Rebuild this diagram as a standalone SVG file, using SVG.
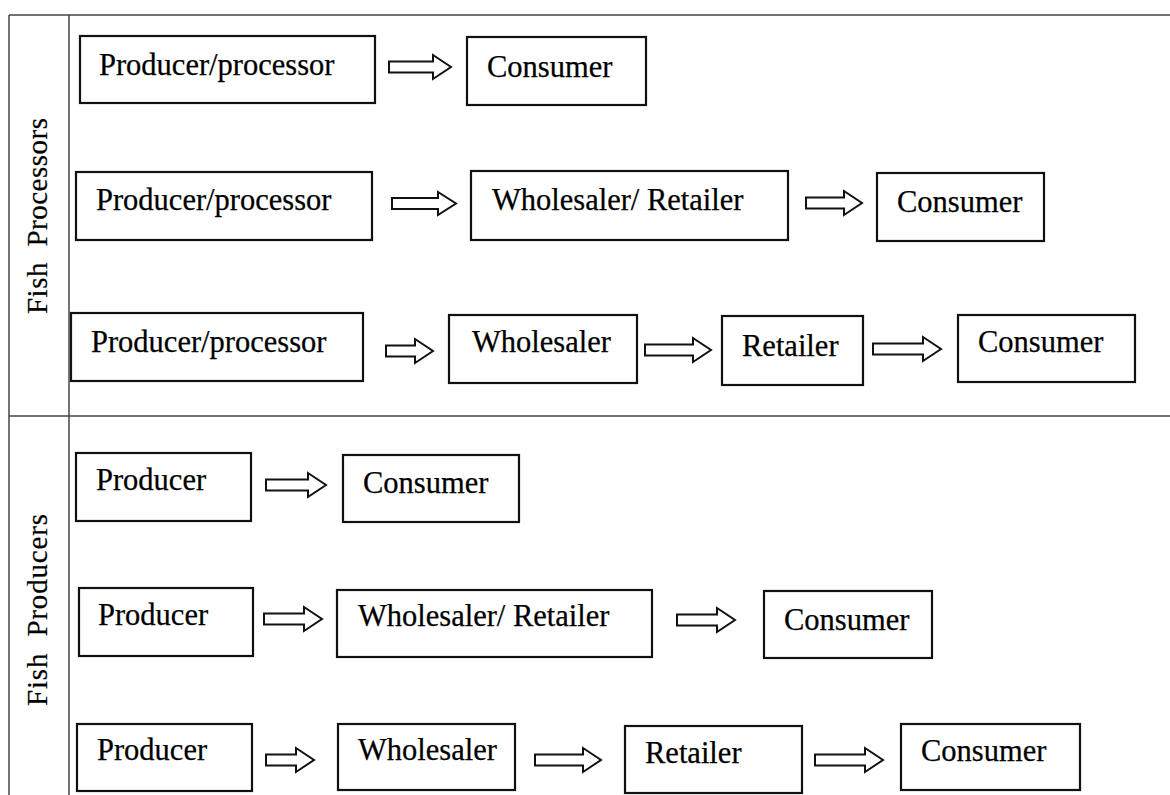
<svg xmlns="http://www.w3.org/2000/svg" width="1170" height="795" viewBox="0 0 1170 795">
<style>
.frame{stroke:#444;stroke-width:1.5;fill:none}
.box{fill:#fff;stroke:#111;stroke-width:2.2}
.t{font-family:"Liberation Serif","Times New Roman",serif;font-size:30.5px;fill:#000;stroke:#000;stroke-width:0.25}
.lab{font-family:"Liberation Serif","Times New Roman",serif;font-size:29px;fill:#000;white-space:pre;stroke:#000;stroke-width:0.2}
.arr{fill:#fff;stroke:#111;stroke-width:2;stroke-linejoin:miter}
</style>
<rect width="1170" height="795" fill="#fff"/>
<g id="frame">
<line class="frame" x1="9" y1="15" x2="1170" y2="15"/>
<line class="frame" x1="9" y1="15" x2="9" y2="795"/>
<line class="frame" x1="69" y1="15" x2="69" y2="795"/>
<line class="frame" x1="9" y1="416" x2="1170" y2="416"/>
</g>
<g id="label-processors"><text class="lab" transform="translate(47,314) rotate(-90)" textLength="196" lengthAdjust="spacing">Fish  Processors</text></g>
<g id="label-producers"><text class="lab" transform="translate(47,706) rotate(-90)" textLength="192" lengthAdjust="spacing">Fish  Producers</text></g>

<g id="r1n1"><rect class="box" x="80" y="36" width="295" height="67"/><text class="t" x="99" y="75">Producer/processor</text></g>
<g id="r1n2"><rect class="box" x="467" y="37" width="179" height="68"/><text class="t" x="487" y="77">Consumer</text></g>

<g id="r2n1"><rect class="box" x="76" y="172" width="296" height="68"/><text class="t" x="96" y="210">Producer/processor</text></g>
<g id="r2n2"><rect class="box" x="471" y="171" width="317" height="69"/><text class="t" x="492" y="210">Wholesaler/ Retailer</text></g>
<g id="r2n3"><rect class="box" x="877" y="173" width="167" height="68"/><text class="t" x="897" y="212">Consumer</text></g>

<g id="r3n1"><rect class="box" x="71" y="313" width="292" height="68"/><text class="t" x="91" y="352">Producer/processor</text></g>
<g id="r3n2"><rect class="box" x="449" y="315" width="188" height="68"/><text class="t" x="472" y="352">Wholesaler</text></g>
<g id="r3n3"><rect class="box" x="722" y="316" width="141" height="69"/><text class="t" x="742" y="356">Retailer</text></g>
<g id="r3n4"><rect class="box" x="958" y="315" width="177" height="67"/><text class="t" x="978" y="352">Consumer</text></g>

<g id="r4n1"><rect class="box" x="76" y="453" width="175" height="68"/><text class="t" x="96" y="490">Producer</text></g>
<g id="r4n2"><rect class="box" x="343" y="455" width="176" height="67"/><text class="t" x="363" y="493">Consumer</text></g>

<g id="r5n1"><rect class="box" x="79" y="588" width="174" height="68"/><text class="t" x="98" y="625">Producer</text></g>
<g id="r5n2"><rect class="box" x="337" y="590" width="315" height="67"/><text class="t" x="358" y="626">Wholesaler/ Retailer</text></g>
<g id="r5n3"><rect class="box" x="764" y="591" width="168" height="67"/><text class="t" x="784" y="630">Consumer</text></g>

<g id="r6n1"><rect class="box" x="77" y="724" width="175" height="67"/><text class="t" x="97" y="760">Producer</text></g>
<g id="r6n2"><rect class="box" x="338" y="724" width="177" height="66"/><text class="t" x="358" y="760">Wholesaler</text></g>
<g id="r6n3"><rect class="box" x="625" y="726" width="177" height="67"/><text class="t" x="645" y="763">Retailer</text></g>
<g id="r6n4"><rect class="box" x="901" y="724" width="179" height="66"/><text class="t" x="921" y="761">Consumer</text></g>

<g id="connectors">
<path class="arr" d="M389,61.5 H433 V55 L451,67 L433,79 V72.5 H389 Z"/>
<path class="arr" d="M392,198 H438 V192 L456,203.5 L438,215 V209 H392 Z"/>
<path class="arr" d="M806,197.5 H844 V191 L862,203 L844,215 V208.5 H806 Z"/>
<path class="arr" d="M386,345.5 H415 V339 L433,351 L415,363 V356.5 H386 Z"/>
<path class="arr" d="M645,344.5 H693 V338 L711,350 L693,362 V355.5 H645 Z"/>
<path class="arr" d="M873,343.5 H923 V337 L941,349 L923,361 V354.5 H873 Z"/>
<path class="arr" d="M266,479.5 H308 V473 L326,485 L308,497 V490.5 H266 Z"/>
<path class="arr" d="M264,613.5 H304 V607 L322,619 L304,631 V624.5 H264 Z"/>
<path class="arr" d="M677,614.5 H717 V608 L735,620 L717,632 V625.5 H677 Z"/>
<path class="arr" d="M266,754.5 H296 V748 L314,760 L296,772 V765.5 H266 Z"/>
<path class="arr" d="M535,754.5 H583 V748 L601,760 L583,772 V765.5 H535 Z"/>
<path class="arr" d="M815,754.5 H865 V748 L883,760 L865,772 V765.5 H815 Z"/>
</g>
</svg>
